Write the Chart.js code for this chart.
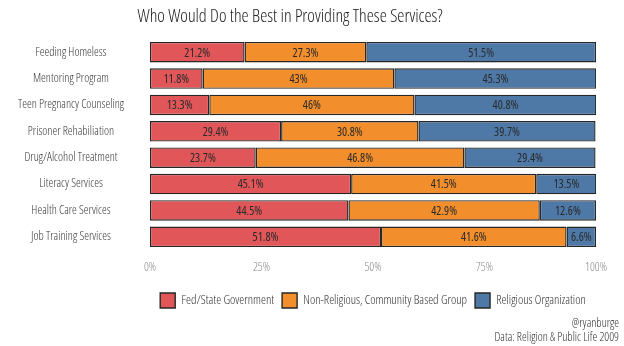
<!DOCTYPE html>
<html>
<head>
<meta charset="utf-8">
<script src="https://cdn.jsdelivr.net/npm/chart.js@4"></script>
<style>
  html, body { margin: 0; padding: 0; background: #fff; }
  #wrap { width: 624px; height: 346px; position: relative; }
</style>
</head>
<body>
<div id="wrap"><canvas id="chart" width="624" height="346"></canvas></div>
<script>
// Survey: who would do the best in providing these services (percent of respondents)
const services = [
    'Feeding Homeless',
    'Mentoring Program',
    'Teen Pregnancy Counseling',
    'Prisoner Rehabiliation',
    'Drug/Alcohol Treatment',
    'Literacy Services',
    'Health Care Services',
    'Job Training Services'
];
const government = [21.2, 11.8, 13.3, 29.4, 23.7, 45.1, 44.5, 51.8];
const community  = [27.3, 43, 46, 30.8, 46.8, 41.5, 42.9, 41.6];
const religious  = [51.5, 45.3, 40.8, 39.7, 29.4, 13.5, 12.6, 6.6];
const xTicks = [0, 25, 50, 75, 100];

// Open Sans is variable in width; the stretch keyword rides in the weight slot of the font string
const FAMILY = "'Open Sans', sans-serif";
const LIGHT = '300 condensed';
const REGULAR = '400 condensed';
const font = (size, weight = LIGHT) => ({ size, family: FAMILY, weight });
const fontStr = (size, weight = LIGHT) => `${weight} ${size}px ${FAMILY}`;

const COLORS = {
    gov: '#E15759',
    comm: '#F28E2B',
    rel: '#4E79A7',
    border: '#262626'
};

function series(label, data, color) {
    return {
        label,
        data,
        backgroundColor: color,
        borderColor: COLORS.border,
        borderWidth: 1.4,
        borderSkipped: false,
        barPercentage: 0.78,
        categoryPercentage: 1
    };
}

// Percent labels centred in each segment
const segmentLabels = {
    id: 'segmentLabels',
    afterDatasetsDraw(chart) {
        const ctx = chart.ctx;
        ctx.save();
        ctx.font = fontStr(12, REGULAR);
        ctx.fillStyle = '#2a2a2a';
        ctx.textAlign = 'center';
        ctx.textBaseline = 'middle';
        chart.data.datasets.forEach((ds, i) => {
            chart.getDatasetMeta(i).data.forEach((bar, j) => {
                const c = bar.getCenterPoint();
                ctx.fillText(ds.data[j] + '%', c.x, c.y + 1);
            });
        });
        ctx.restore();
    }
};

// Title and source note
const annotations = {
    id: 'annotations',
    afterDraw(chart) {
        const ctx = chart.ctx;
        ctx.save();
        ctx.fillStyle = '#222';
        ctx.textBaseline = 'middle';
        ctx.textAlign = 'center';
        ctx.font = fontStr(18);
        ctx.fillText('Who Would Do the Best in Providing These Services?', 290, 17);
        ctx.textAlign = 'right';
        ctx.fillStyle = '#333';
        ctx.font = fontStr(12);
        ctx.fillText('@ryanburge', 619, 324);
        ctx.fillText('Data: Religion & Public Life 2009', 619, 338);
        ctx.restore();
    }
};

new Chart(document.getElementById('chart'), {
    type: 'bar',
    data: {
        labels: services,
        datasets: [
            series('Fed/State Government', government, COLORS.gov),
            series('Non-Religious, Community Based Group', community, COLORS.comm),
            series('Religious Organization', religious, COLORS.rel)
        ]
    },
    options: {
        indexAxis: 'y',
        responsive: false,
        animation: false,
        layout: { padding: { top: 39, right: 28, bottom: 28, left: 0 } },
        plugins: {
            legend: {
                position: 'bottom',
                fullSize: false,
                labels: {
                    boxWidth: 15,
                    boxHeight: 15,
                    padding: 8,
                    color: '#333',
                    font: font(12.5)
                }
            },
            tooltip: { enabled: false }
        },
        scales: {
            x: {
                stacked: true,
                min: 0,
                max: 100,
                grid: { display: false },
                border: { display: false },
                afterBuildTicks(scale) {
                    scale.ticks = xTicks.map(v => ({ value: v }));
                },
                afterFit(scale) { scale.height = 35; },
                ticks: {
                    color: '#8a8a8a',
                    padding: 2,
                    font: font(12),
                    callback: v => v + '%'
                }
            },
            y: {
                stacked: true,
                grid: { display: false, drawTicks: false },
                border: { display: false },
                afterFit(scale) { scale.width = 150; },
                ticks: {
                    crossAlign: 'center',
                    padding: 26,
                    color: '#3a3a3a',
                    font: font(12)
                }
            }
        }
    },
    plugins: [segmentLabels, annotations]
});
</script>
</body>
</html>
